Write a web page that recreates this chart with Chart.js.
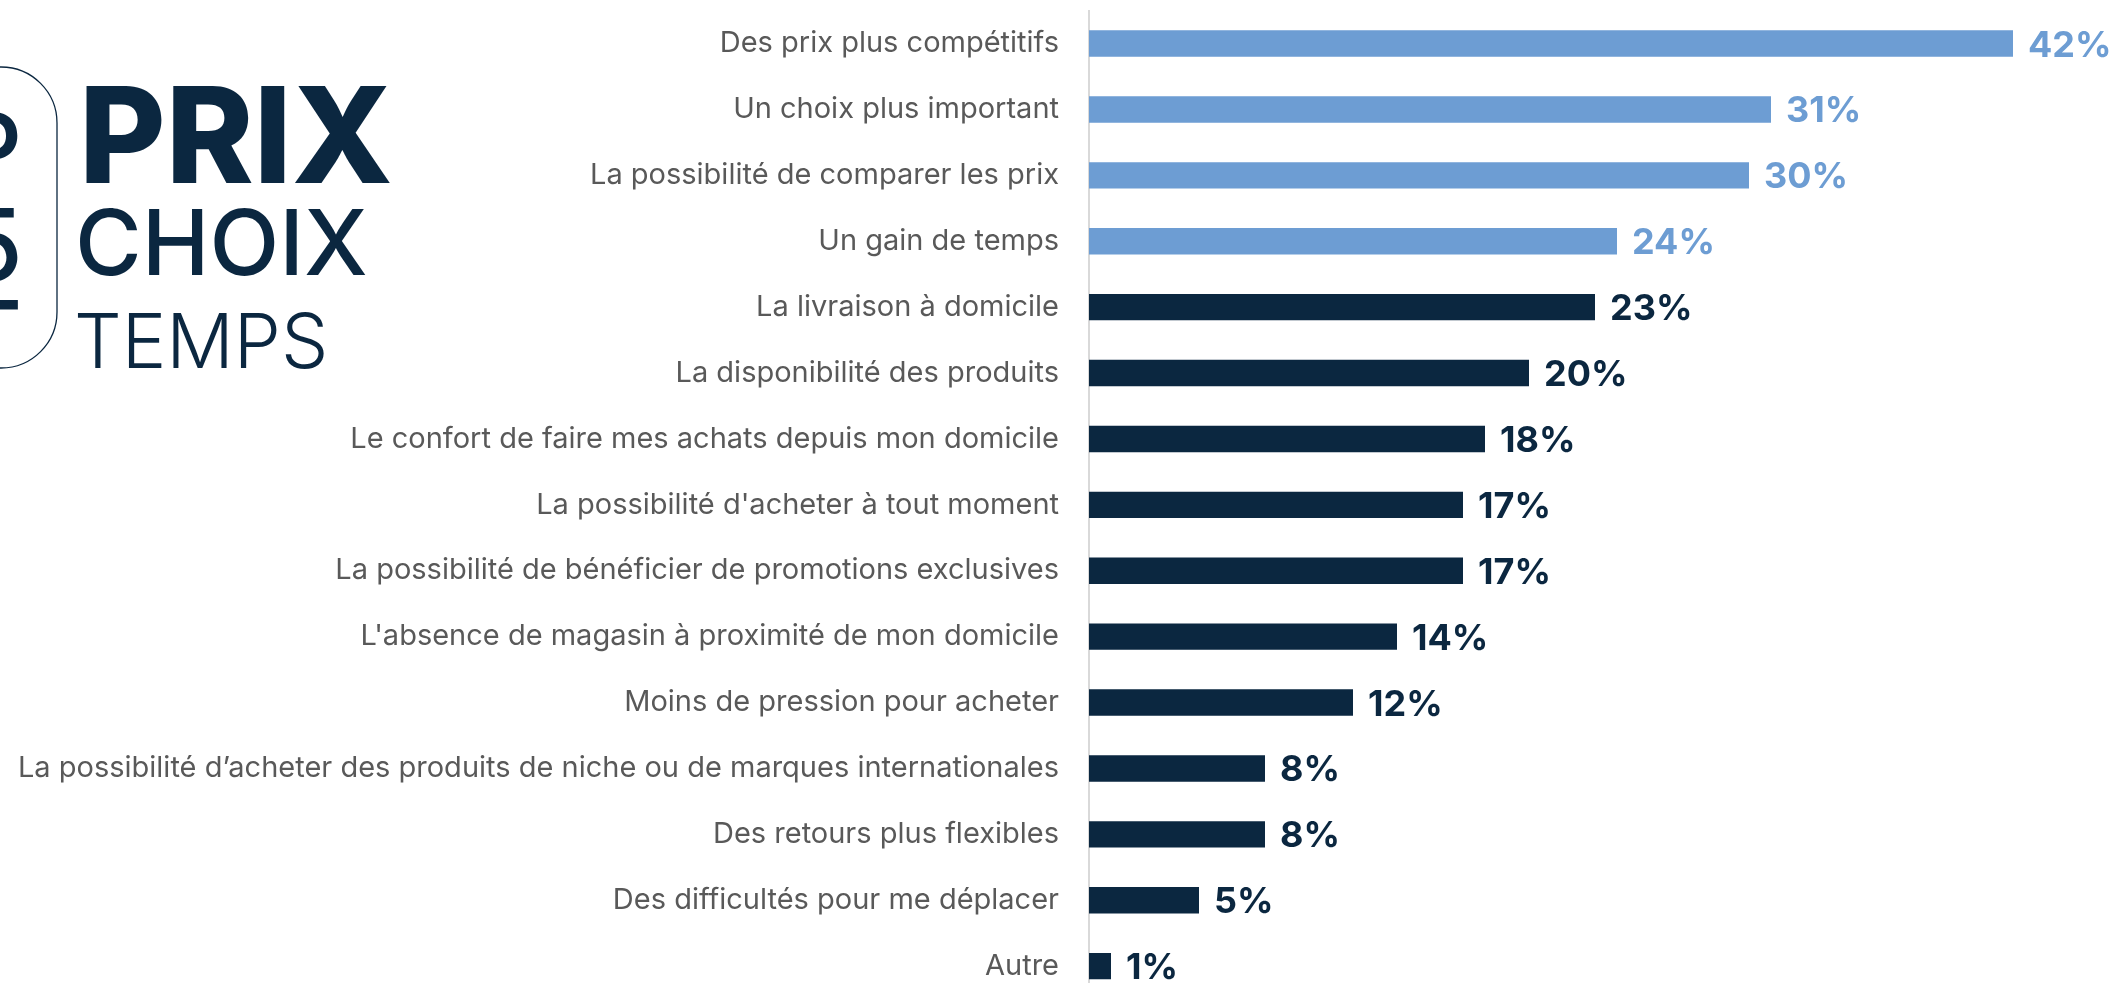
<!DOCTYPE html>
<html>
<head>
<meta charset="utf-8">
<script src="https://cdn.jsdelivr.net/npm/chart.js@4/dist/chart.umd.min.js"></script>
<style>
  html, body { margin: 0; padding: 0; background: #ffffff; overflow: hidden; }
  #wrap { position: absolute; left: 0; top: 0; width: 2113px; height: 1010px; }
</style>
</head>
<body>
<div id="wrap"><canvas id="c" width="2113" height="1010"></canvas></div>
<script>
// ---- data ----
const categories = [
  "Des prix plus compétitifs",
  "Un choix plus important",
  "La possibilité de comparer les prix",
  "Un gain de temps",
  "La livraison à domicile",
  "La disponibilité des produits",
  "Le confort de faire mes achats depuis mon domicile",
  "La possibilité d'acheter à tout moment",
  "La possibilité de bénéficier de promotions exclusives",
  "L'absence de magasin à proximité de mon domicile",
  "Moins de pression pour acheter",
  "La possibilité d’acheter des produits de niche ou de marques internationales",
  "Des retours plus flexibles",
  "Des difficultés pour me déplacer",
  "Autre"
];
const values = [42, 31, 30, 24, 23, 20, 18, 17, 17, 14, 12, 8, 8, 5, 1];
const headerWords = ["PRIX", "CHOIX", "TEMPS"];
const badgeGlyphs = ["P", "5", "T"];

// ---- style ----
const NAVY = "#0B2740";
const LIGHT = "#6D9DD3";
const HIGHLIGHTED = 4;
const colorFor = i => (i < HIGHLIGHTED ? LIGHT : NAVY);

const valueLabels = {
  id: "valueLabels",
  afterDatasetsDraw(chart) {
    const ctx = chart.ctx;
    const meta = chart.getDatasetMeta(0);
    ctx.save();
    ctx.font = "700 36px Inter";
    ctx.textAlign = "left";
    ctx.textBaseline = "alphabetic";
    meta.data.forEach((bar, i) => {
      ctx.fillStyle = colorFor(i);
      ctx.fillText(values[i] + "%", bar.x + 15, bar.y + 13);
    });
    ctx.restore();
  }
};

const header = {
  id: "header",
  afterDraw(chart) {
    const ctx = chart.ctx;
    ctx.save();
    ctx.fillStyle = NAVY;
    ctx.textBaseline = "alphabetic";
    ctx.textAlign = "left";
    const specs = [
      { font: "800 133px Inter", left: 86, base: 183 },
      { font: "500 91px Inter", left: 80, base: 275 },
      { font: "300 75px Inter", left: 77, base: 368 }
    ];
    headerWords.forEach((w, i) => {
      const s = specs[i];
      ctx.font = s.font;
      const m = ctx.measureText(w);
      ctx.fillText(w, s.left + m.actualBoundingBoxLeft, s.base);
    });
    // badge outline
    ctx.strokeStyle = NAVY;
    ctx.lineWidth = 1.3;
    ctx.beginPath();
    ctx.roundRect(-70, 67, 127, 301, 56);
    ctx.stroke();
    // clipped badge glyphs
    ctx.font = "500 100px Inter";
    const bases = [185, 281, 373];
    badgeGlyphs.forEach((g, i) => {
      const m = ctx.measureText(g);
      ctx.fillText(g, 18 - m.actualBoundingBoxRight, bases[i]);
    });
    ctx.restore();
  }
};

new Chart(document.getElementById("c"), {
  type: "bar",
  data: {
    labels: categories,
    datasets: [{
      data: values,
      backgroundColor: ctx => colorFor(ctx.dataIndex),
      borderWidth: 0,
      barPercentage: 0.4,
      categoryPercentage: 1
    }]
  },
  options: {
    indexAxis: "y",
    responsive: false,
    animation: false,
    events: [],
    layout: { padding: { left: 0, right: 34, top: 10.6, bottom: 10.9 } },
    plugins: { legend: { display: false }, tooltip: { enabled: false } },
    scales: {
      x: { display: false, min: 0, max: 45 },
      y: {
        afterFit: s => { s.width = 1089; s.paddingTop = 0; s.paddingBottom = 0; },
        grid: { display: false, drawTicks: false },
        border: { display: true, color: "#D9D9D9", width: 2 },
        ticks: { color: "#595959", font: { family: "Inter", size: 29 }, padding: 30, autoSkip: false }
      }
    }
  },
  plugins: [valueLabels, header]
});
</script>
</body>
</html>
